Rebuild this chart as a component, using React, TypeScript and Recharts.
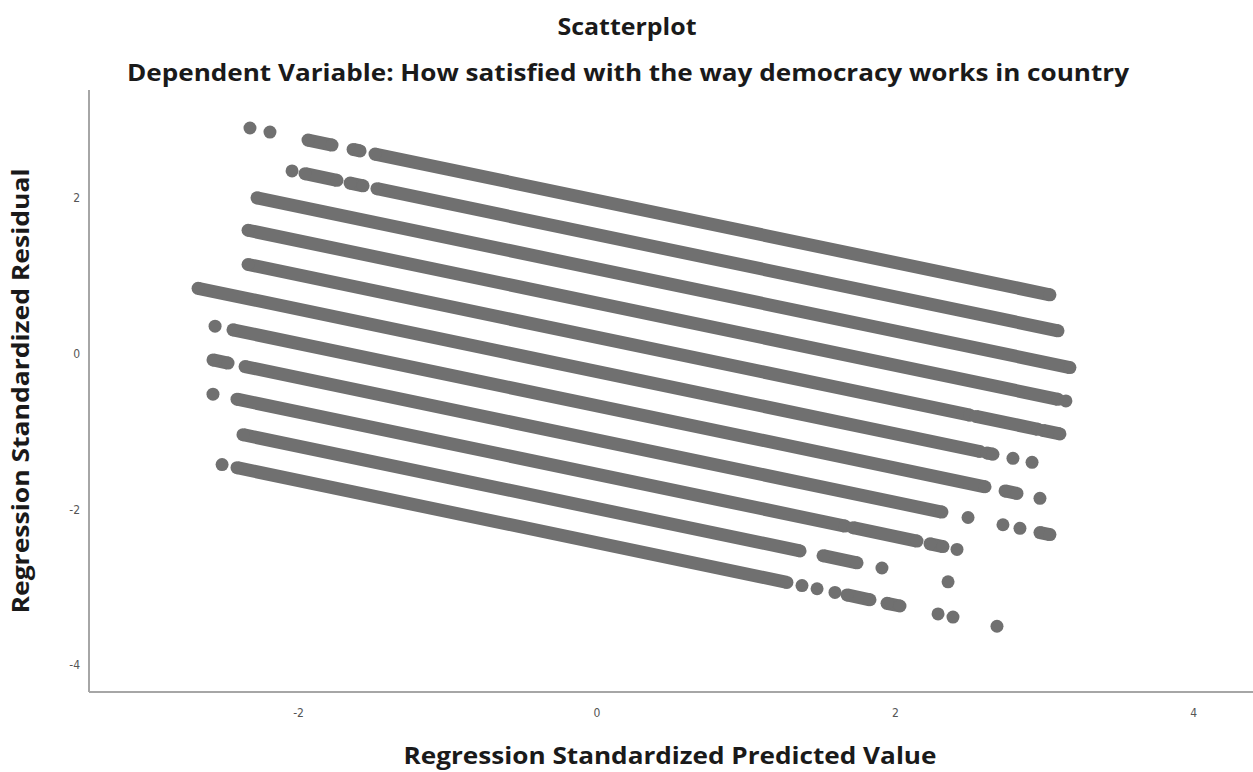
import React from 'react';
import { ScatterChart, Scatter, XAxis, YAxis } from 'recharts';

// Each band is one response level of the dependent variable. A run is either a
// single case [x, y] or a dense stretch of overlapping cases given by its two ends.
type Pair = [number, number];

const band0: Pair[][] = [
  [[-2.326, 2.9]],
  [[-2.192, 2.847]],
  [[-1.937, 2.745], [-1.776, 2.68]],
  [[-1.635, 2.624], [-1.588, 2.605]],
  [[-1.488, 2.565], [3.036, 0.756]],
];
const band1: Pair[][] = [
  [[-2.044, 2.348]],
  [[-1.957, 2.313], [-1.743, 2.227]],
  [[-1.655, 2.192], [-1.568, 2.157]],
  [[-1.475, 2.12], [3.09, 0.294]],
];
const band2: Pair[][] = [[[-2.279, 2.002], [3.17, -0.178]]];
const band3: Pair[][] = [
  [[-2.339, 1.586], [3.09, -0.586]],
  [[3.143, -0.607]],
];
const band4: Pair[][] = [
  [[-2.339, 1.146], [2.5, -0.79]],
  [[2.54, -0.806], [2.956, -0.972]],
  [[2.989, -0.986], [3.103, -1.031]],
];
const band5: Pair[][] = [
  [[-2.674, 0.84], [2.567, -1.257]],
  [[2.614, -1.276], [2.654, -1.292]],
  [[2.788, -1.345]],
  [[2.916, -1.396]],
];
const band6: Pair[][] = [
  [[-2.56, 0.354]],
  [[-2.44, 0.306], [2.601, -1.71]],
  [[2.735, -1.764], [2.815, -1.796]],
  [[2.969, -1.858]],
];
const band7: Pair[][] = [
  [[-2.574, -0.08], [-2.473, -0.121]],
  [[-2.359, -0.166], [2.312, -2.035]],
  [[2.487, -2.105]],
  [[2.721, -2.198]],
  [[2.835, -2.244]],
  [[2.969, -2.298], [3.036, -2.324]],
];
const band8: Pair[][] = [
  [[-2.574, -0.52]],
  [[-2.413, -0.585], [1.662, -2.215]],
  [[1.716, -2.236], [2.145, -2.408]],
  [[2.232, -2.443], [2.319, -2.478]],
  [[2.413, -2.515]],
];
const band9: Pair[][] = [
  [[-2.373, -1.041], [1.361, -2.534]],
  [[1.515, -2.596], [1.743, -2.687]],
  [[1.91, -2.754]],
  [[2.353, -2.931]],
];
const band10: Pair[][] = [
  [[-2.513, -1.425]],
  [[-2.413, -1.465], [1.273, -2.939]],
  [[1.374, -2.98]],
  [[1.475, -3.02]],
  [[1.595, -3.068]],
  [[1.676, -3.1], [1.83, -3.162]],
  [[1.944, -3.208], [2.031, -3.242]],
  [[2.286, -3.344]],
  [[2.386, -3.384]],
  [[2.681, -3.502]],
];

const bands = [band0, band1, band2, band3, band4, band5, band6, band7, band8, band9, band10];

const xTicks = [-2, 0, 2, 4];
const yTicks = [-4, -2, 0, 2];
const xDomain: [number, number] = [-3.405, 4.397];
const yDomain: [number, number] = [-4.347, 3.388];

const chartTitle = 'Scatterplot';
const chartSubtitle = 'Dependent Variable: How satisfied with the way democracy works in country';
const xLabel = 'Regression Standardized Predicted Value';
const yLabel = 'Regression Standardized Residual';

const GREY = '#707070';
const DOT_R = 6.5;
const TEXT_FONT = "'Open Sans', 'DejaVu Sans', sans-serif";
const TICK_FONT = "'Liberation Sans Narrow', 'DejaVu Sans Condensed', 'Liberation Sans', sans-serif";

const Dot = (props: any) => {
  if (props.cx == null || props.cy == null) return <g />;
  return <circle cx={props.cx} cy={props.cy} r={DOT_R} fill={GREY} />;
};

export default function App() {
  const runs = bands.flatMap((band, b) =>
    band.map((run, r) => ({
      key: `b${b}-r${r}`,
      data: run.map(([x, y]) => ({ x, y })),
    }))
  );

  return (
    <div style={{ position: 'absolute', left: 0, top: 0, width: 1253, height: 772, background: '#fff' }}>
      <ScatterChart
        width={1253}
        height={772}
        margin={{ top: 90, right: 0, bottom: 40, left: 39 }}
      >
        <XAxis
          type="number"
          dataKey="x"
          domain={xDomain}
          ticks={xTicks}
          allowDataOverflow
          height={40}
          tickLine={false}
          tickMargin={10}
          axisLine={{ stroke: '#a6a6a6', strokeWidth: 2 }}
          tick={{ fontSize: 12, fill: '#555', fontFamily: TICK_FONT }}
        />
        <YAxis
          type="number"
          dataKey="y"
          domain={yDomain}
          ticks={yTicks}
          allowDataOverflow
          width={50}
          tickLine={false}
          tickMargin={3}
          axisLine={{ stroke: '#a6a6a6', strokeWidth: 2 }}
          tick={{ fontSize: 12, fill: '#555', fontFamily: TICK_FONT }}
        />
        {runs.map((run) => (
          <Scatter
            key={run.key}
            data={run.data}
            fill={GREY}
            shape={Dot}
            line={run.data.length > 1 ? { stroke: GREY, strokeWidth: DOT_R * 2 } : false}
            isAnimationActive={false}
          />
        ))}
      </ScatterChart>
      <svg
        width={1253}
        height={772}
        style={{ position: 'absolute', left: 0, top: 0, pointerEvents: 'none' }}
      >
        <g fontFamily={TEXT_FONT} fontWeight={700} fill="#1a1a1a" fontSize={24}>
          <text x={627} y={35} textAnchor="middle" textLength={139} lengthAdjust="spacingAndGlyphs">
            {chartTitle}
          </text>
          <text x={628} y={81} textAnchor="middle" textLength={1002} lengthAdjust="spacingAndGlyphs">
            {chartSubtitle}
          </text>
          <text x={670} y={764} textAnchor="middle" textLength={533} lengthAdjust="spacingAndGlyphs">
            {xLabel}
          </text>
          <text
            x={0}
            y={0}
            transform="translate(29 391) rotate(-90)"
            textAnchor="middle"
            textLength={445}
            lengthAdjust="spacingAndGlyphs"
          >
            {yLabel}
          </text>
        </g>
      </svg>
    </div>
  );
}
